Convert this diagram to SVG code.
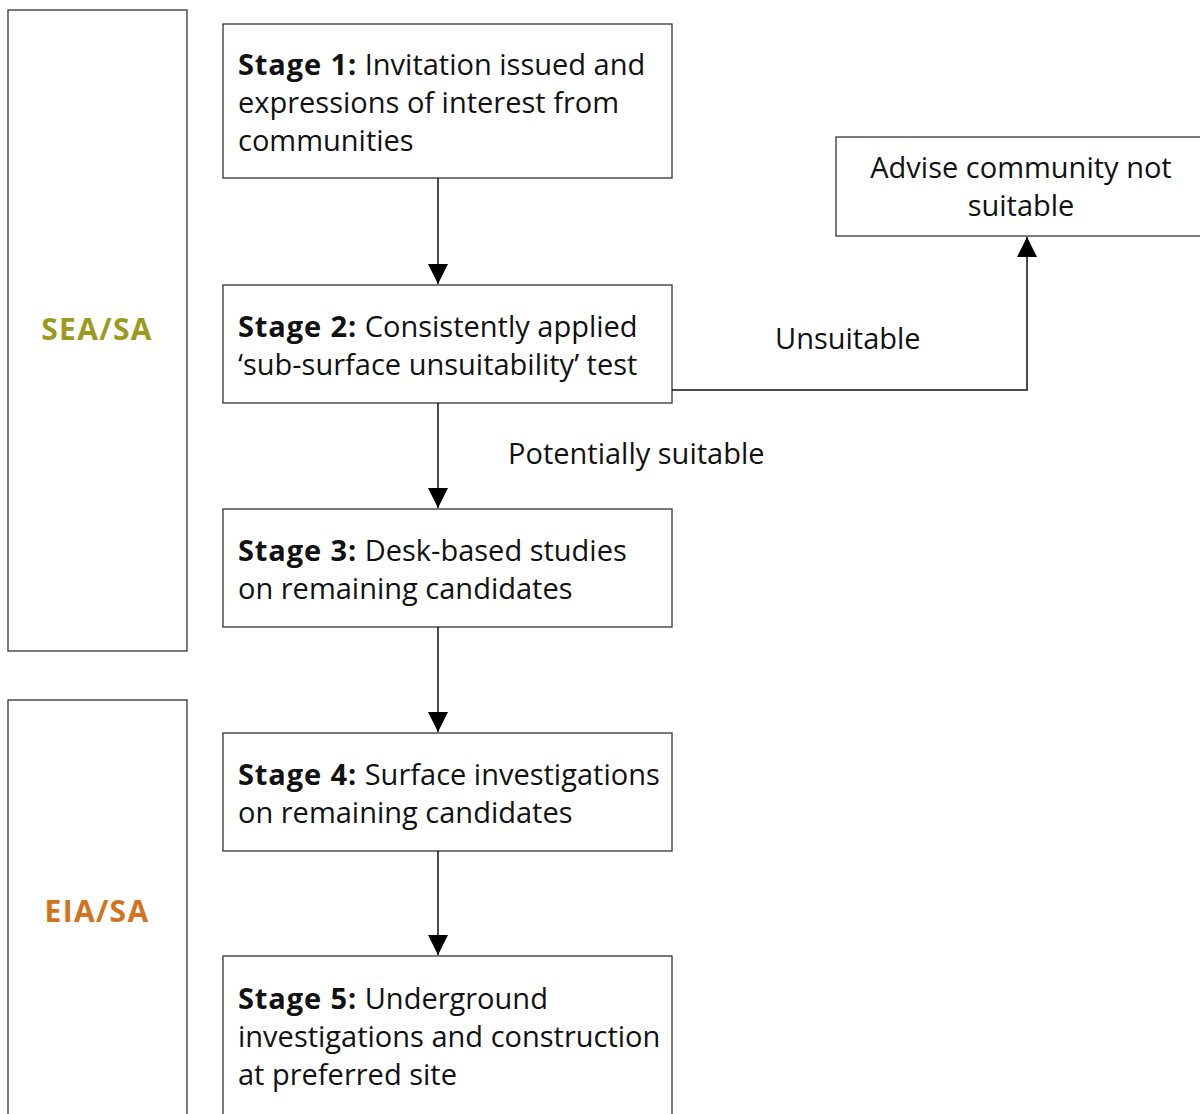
<svg xmlns="http://www.w3.org/2000/svg" width="1200" height="1114" viewBox="0 0 1200 1114">
<style>
.box{fill:#fff;stroke:#333;stroke-width:1.3}
.t{font-family:"Open Sans","Noto Sans",sans-serif;font-size:29px;fill:#111}
.b{font-weight:bold;letter-spacing:0.9px}
.lbl{font-family:"Open Sans","Noto Sans",sans-serif;font-size:30px;font-weight:bold;text-anchor:middle;letter-spacing:1.3px}
.ln{stroke:#111;stroke-width:1.5;fill:none}
</style>
<defs>
<marker id="ah" markerWidth="20" markerHeight="20" refX="20" refY="10" orient="auto" markerUnits="userSpaceOnUse" viewBox="0 0 20 20">
<path d="M0,0 L20,10 L0,20 Z" fill="#000"/>
</marker>
</defs>
<rect width="1200" height="1114" fill="#fff"/>
<g id="sea">
<rect class="box" x="8" y="10" width="179" height="641"/>
<text class="lbl" x="97" y="340" fill="#9c9a1c">SEA/SA</text>
</g>
<g id="eia">
<rect class="box" x="8" y="700" width="179" height="430"/>
<text class="lbl" x="97" y="922" fill="#d4731e">EIA/SA</text>
</g>
<g id="stage1">
<rect class="box" x="223" y="24" width="449" height="154"/>
<text class="t" x="238" y="75"><tspan class="b">Stage 1:</tspan> Invitation issued and</text>
<text class="t" x="238" y="113">expressions of interest from</text>
<text class="t" x="238" y="151">communities</text>
</g>
<g id="stage2">
<rect class="box" x="223" y="285" width="449" height="118"/>
<text class="t" x="238" y="337"><tspan class="b">Stage 2:</tspan> Consistently applied</text>
<text class="t" x="238" y="375">‘sub-surface unsuitability’ test</text>
</g>
<g id="stage3">
<rect class="box" x="223" y="509" width="449" height="118"/>
<text class="t" x="238" y="561"><tspan class="b">Stage 3:</tspan> Desk-based studies</text>
<text class="t" x="238" y="599">on remaining candidates</text>
</g>
<g id="stage4">
<rect class="box" x="223" y="733" width="449" height="118"/>
<text class="t" x="238" y="785"><tspan class="b">Stage 4:</tspan> Surface investigations</text>
<text class="t" x="238" y="823">on remaining candidates</text>
</g>
<g id="stage5">
<rect class="box" x="223" y="956" width="449" height="180"/>
<text class="t" x="238" y="1009"><tspan class="b">Stage 5:</tspan> Underground</text>
<text class="t" x="238" y="1047">investigations and construction</text>
<text class="t" x="238" y="1085">at preferred site</text>
</g>
<g id="advise">
<rect class="box" x="836" y="137" width="380" height="99"/>
<text class="t" x="1021" y="178" text-anchor="middle">Advise community not</text>
<text class="t" x="1021" y="216" text-anchor="middle">suitable</text>
</g>
<g id="connectors">
<line class="ln" x1="438" y1="178" x2="438" y2="284" marker-end="url(#ah)"/>
<line class="ln" x1="438" y1="403" x2="438" y2="508" marker-end="url(#ah)"/>
<line class="ln" x1="438" y1="627" x2="438" y2="732" marker-end="url(#ah)"/>
<line class="ln" x1="438" y1="851" x2="438" y2="955" marker-end="url(#ah)"/>
<polyline class="ln" points="672,390 1027,390 1027,237" marker-end="url(#ah)"/>
<text class="t" x="775" y="349">Unsuitable</text>
<text class="t" x="508" y="464">Potentially suitable</text>
</g>
</svg>
